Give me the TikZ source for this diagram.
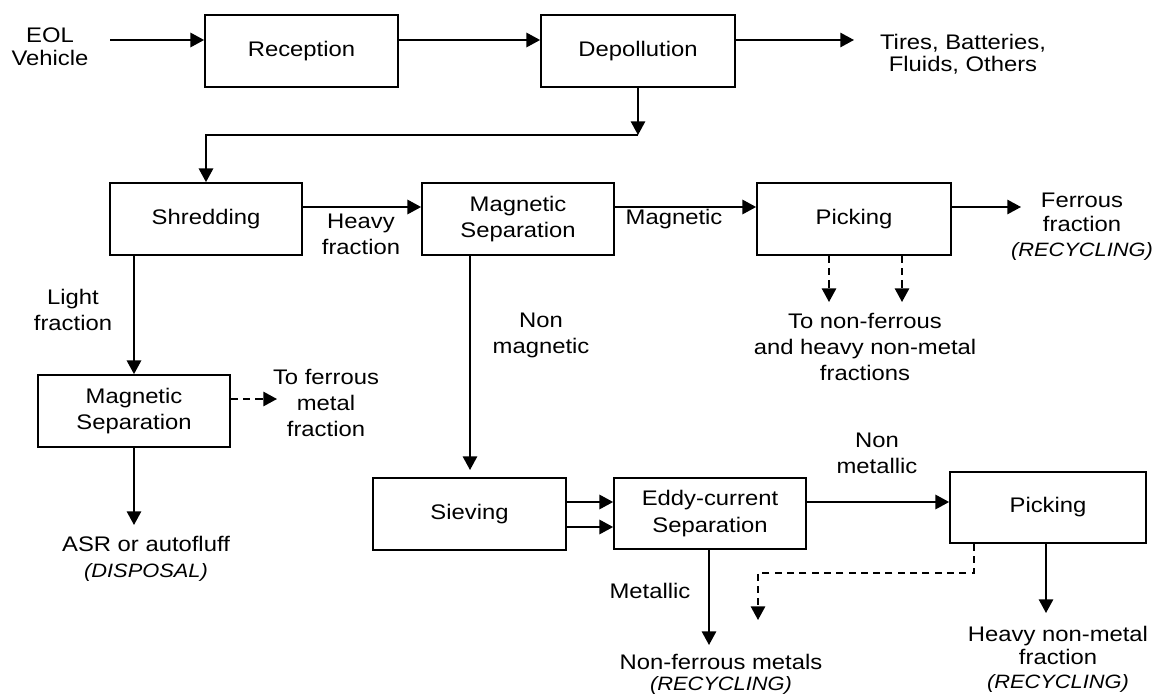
\documentclass[tikz,border=0pt]{standalone}
\usepackage{fontspec}
\setmainfont{Liberation Sans}[FakeStretch=1.13]
\usetikzlibrary{arrows.meta}

\newcommand{\recyc}[1]{{\fontsize{11}{13}\selectfont\itshape #1}}

\begin{document}
\begin{tikzpicture}[x=0.02cm, y=-0.02cm, line width=1pt,
  every node/.style={font=\fontsize{12}{15}\selectfont, align=center, inner sep=0pt},
  box/.style 2 args={draw, minimum width=#1*0.02cm, minimum height=#2*0.02cm},
  lbl/.style={anchor=north},
  arr/.style={-{Triangle[length=7.8pt, width=8.2pt]}},
  dsh/.style={arr, dash pattern=on 4pt off 3pt}]
  \useasboundingbox (0,0) rectangle (1155,699);

  \node [box={193}{72}] (rec) at (301.5, 51) {Reception};
  \node [box={194}{72}] (dep) at (638, 51) {Depollution};
  \node [box={192}{72}] (shred) at (206, 219) {Shredding};
  \node [box={192}{72}] (msep1) at (518, 219) {Magnetic\\Separation};
  \node [box={194}{72}] (pick1) at (854, 219) {Picking};
  \node [box={192}{72}] (msep2) at (134, 411) {Magnetic\\Separation};
  \node [box={193}{72}] (siev) at (469.5, 514) {Sieving};
  \node [box={192}{71}] (eddy) at (710, 513.5) {Eddy-current\\Separation};
  \node [box={196}{71}] (pick2) at (1048, 507.5) {Picking};

  \node [lbl] (eol) at (50, 27) {EOL\\[-2pt]Vehicle};
  \node [lbl] (tires) at (963, 33) {Tires, Batteries,\\[-2.5pt]Fluids, Others};
  \node [lbl] (heavy) at (361, 213) {Heavy\\fraction};
  \node [lbl] (maglbl) at (674, 208) {Magnetic};
  \node [lbl] (ferr) at (1082, 192) {Ferrous\\[-1pt]fraction\\[-1pt]\recyc{(RECYCLING)}};
  \node [lbl] (light) at (73, 288) {Light\\fraction};
  \node [lbl] (toferr) at (326, 368) {To ferrous\\metal\\fraction};
  \node [lbl] (nonmag) at (541, 312) {Non\\magnetic};
  \node [lbl] (tonf) at (865, 312) {To non-ferrous\\and heavy non-metal\\fractions};
  \node [lbl] (asr) at (146, 535) {ASR or autofluff\\\recyc{(DISPOSAL)}};
  \node [lbl] (nonmet) at (877, 432) {Non\\metallic};
  \node [lbl] (metallic) at (650, 582) {Metallic};
  \node [lbl] (nfm) at (721, 653) {Non-ferrous metals\\[-3pt]\recyc{(RECYCLING)}};
  \node [lbl] (heavynm) at (1058, 625) {Heavy non-metal\\[-1.5pt]fraction\\[-1.5pt]\recyc{(RECYCLING)}};

  \coordinate (a0) at (110, 40);
  \coordinate (a1) at (854, 40);
  \coordinate (c1) at (638, 135);
  \coordinate (r2) at (0, 207);
  \coordinate (a2) at (1021, 207);
  \coordinate (d1) at (829, 302);
  \coordinate (d2) at (902, 302);
  \coordinate (a3) at (277, 399);
  \coordinate (a4) at (134, 525);
  \coordinate (a5) at (470, 470);
  \coordinate (r3) at (0, 502);
  \coordinate (r4) at (0, 527);
  \coordinate (a6) at (1046, 613);
  \coordinate (b1) at (974, 573);
  \coordinate (a7) at (758, 620);
  \coordinate (a8) at (709, 645);

  \draw [arr] (a0) -- (a0 -| rec.west);
  \draw [arr] (rec.east |- a0) -- (dep.west |- a0);
  \draw [arr] (dep.east |- a0) -- (a1);
  \draw [arr] (dep.south) -- (c1);
  \draw [arr] (c1) -| (shred.north);
  \draw [arr] (shred.east |- r2) -- (msep1.west |- r2);
  \draw [arr] (msep1.east |- r2) -- (pick1.west |- r2);
  \draw [arr] (pick1.east |- r2) -- (a2);
  \draw [dsh] (pick1.south -| d1) -- (d1);
  \draw [dsh] (pick1.south -| d2) -- (d2);
  \draw [arr] (shred.south -| msep2.north) -- (msep2.north);
  \draw [dsh] (msep2.east |- a3) -- (a3);
  \draw [arr] (msep2.south) -- (a4);
  \draw [arr] (msep1.south -| a5) -- (a5);
  \draw [arr] (siev.east |- r3) -- (eddy.west |- r3);
  \draw [arr] (siev.east |- r4) -- (eddy.west |- r4);
  \draw [arr] (eddy.east |- r3) -- (pick2.west |- r3);
  \draw [arr] (pick2.south -| a6) -- (a6);
  \draw [dsh] (pick2.south -| b1) -- (b1) -| (a7);
  \draw [arr] (eddy.south -| a8) -- (a8);
\end{tikzpicture}
\end{document}
